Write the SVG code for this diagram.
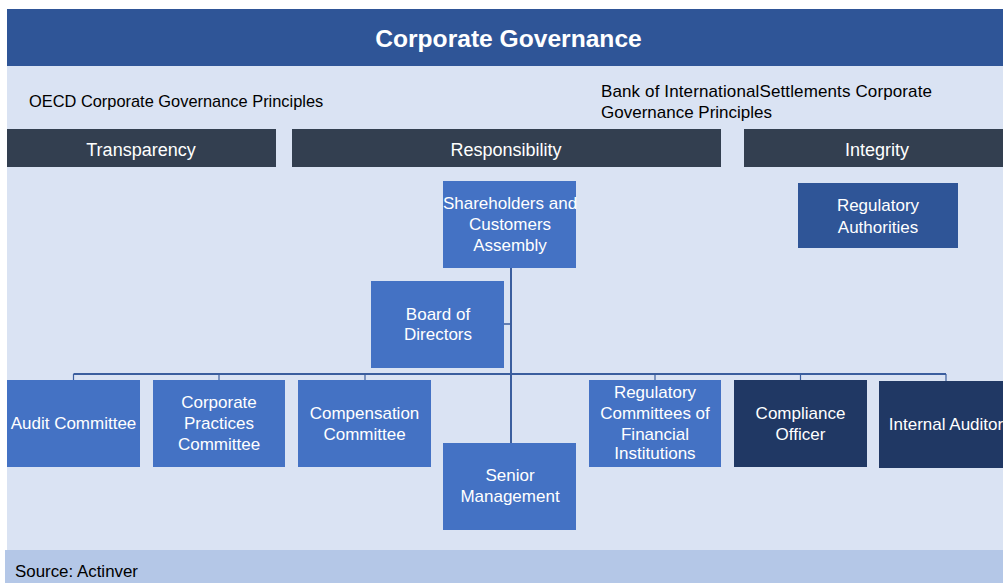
<svg xmlns="http://www.w3.org/2000/svg" width="1003" height="583" viewBox="0 0 1003 583">
<style>
  text { font-family: "Liberation Sans", Arial, sans-serif; }
  .title { font-size: 24.6px; font-weight: bold; fill: #FFFFFF; text-anchor: middle; }
  .sub { font-size: 16.4px; fill: #000000; }
  .bis { font-size: 17px; fill: #000000; }
  .cat { fill: #333F50; }
  .cattxt { font-size: 18px; fill: #FFFFFF; text-anchor: middle; }
  .node { fill: #4472C4; }
  .dark { fill: #203864; }
  .mid { fill: #2F5597; }
  .ntxt { font-size: 17px; fill: #FFFFFF; text-anchor: middle; }
  .conn { stroke: #3B5E9E; fill: none; }
</style>
<rect x="0" y="0" width="1003" height="583" fill="#FFFFFF"/>
<rect x="7" y="9" width="996" height="541" fill="#DAE3F3"/>
<rect x="7" y="9" width="996" height="57" fill="#2F5597"/>
<text class="title" x="508.5" y="47">Corporate Governance</text>
<rect x="5" y="550" width="998" height="33" fill="#B4C7E7"/>
<text x="15" y="577" style="font-size:16.9px;fill:#000000">Source: Actinver</text>

<text class="sub" x="29" y="107">OECD Corporate Governance Principles</text>
<text class="bis" x="601" y="97" textLength="331" lengthAdjust="spacing">Bank of InternationalSettlements Corporate</text>
<text class="bis" x="601" y="118">Governance Principles</text>

<g id="transparency"><rect class="cat" x="7" y="129" width="269" height="38"/><text class="cattxt" x="141" y="156">Transparency</text></g>
<g id="responsibility"><rect class="cat" x="292" y="129" width="429" height="38"/><text class="cattxt" x="506" y="156">Responsibility</text></g>
<g id="integrity"><rect class="cat" x="744" y="129" width="259" height="38"/><text class="cattxt" x="877" y="156">Integrity</text></g>

<g id="connectors">
  <line class="conn" x1="511" y1="268" x2="511" y2="443" stroke-width="2"/>
  <line class="conn" x1="504" y1="324" x2="511" y2="324" stroke-width="1.5"/>
  <line class="conn" x1="73.5" y1="374" x2="946" y2="374" stroke-width="1.8"/>
  <line class="conn" x1="73.5" y1="374" x2="73.5" y2="380" stroke-width="1.2"/>
  <line class="conn" x1="219" y1="374" x2="219" y2="380" stroke-width="1.2"/>
  <line class="conn" x1="365" y1="374" x2="365" y2="380" stroke-width="1.2"/>
  <line class="conn" x1="655" y1="374" x2="655" y2="380" stroke-width="1.2"/>
  <line class="conn" x1="800.5" y1="374" x2="800.5" y2="380" stroke-width="1.2"/>
  <line class="conn" x1="946" y1="374" x2="946" y2="381" stroke-width="1.2"/>
</g>

<g id="shareholders"><rect class="node" x="443" y="181" width="133" height="87"/>
  <text class="ntxt" x="510" y="209">Shareholders and</text>
  <text class="ntxt" x="510" y="230">Customers</text>
  <text class="ntxt" x="510" y="251">Assembly</text></g>
<g id="board"><rect class="node" x="371" y="281" width="133" height="87"/>
  <text class="ntxt" x="438" y="320">Board of</text>
  <text class="ntxt" x="438" y="340">Directors</text></g>
<g id="regauth"><rect class="mid" x="798" y="183" width="160" height="65"/>
  <text class="ntxt" x="878" y="211">Regulatory</text>
  <text class="ntxt" x="878" y="233">Authorities</text></g>

<g id="audit"><rect class="node" x="7" y="380" width="133" height="87"/>
  <text class="ntxt" x="73.5" y="429">Audit Committee</text></g>
<g id="corppractices"><rect class="node" x="153" y="380" width="132" height="87"/>
  <text class="ntxt" x="219" y="408">Corporate</text>
  <text class="ntxt" x="219" y="429">Practices</text>
  <text class="ntxt" x="219" y="450">Committee</text></g>
<g id="compensation"><rect class="node" x="298" y="380" width="133" height="87"/>
  <text class="ntxt" x="364.5" y="419">Compensation</text>
  <text class="ntxt" x="364.5" y="440">Committee</text></g>
<g id="senior"><rect class="node" x="443" y="443" width="133" height="87"/>
  <text class="ntxt" x="510" y="481">Senior</text>
  <text class="ntxt" x="510" y="502">Management</text></g>
<g id="regcommittees"><rect class="node" x="589" y="380" width="132" height="87"/>
  <text class="ntxt" x="655" y="398">Regulatory</text>
  <text class="ntxt" x="655" y="419">Committees of</text>
  <text class="ntxt" x="655" y="440">Financial</text>
  <text class="ntxt" x="655" y="459">Institutions</text></g>
<g id="compliance"><rect class="dark" x="734" y="380" width="133" height="87"/>
  <text class="ntxt" x="800.5" y="419">Compliance</text>
  <text class="ntxt" x="800.5" y="440">Officer</text></g>
<g id="internalauditor"><rect class="dark" x="879" y="381" width="124" height="87"/>
  <text class="ntxt" x="946" y="430">Internal Auditor</text></g>
</svg>
